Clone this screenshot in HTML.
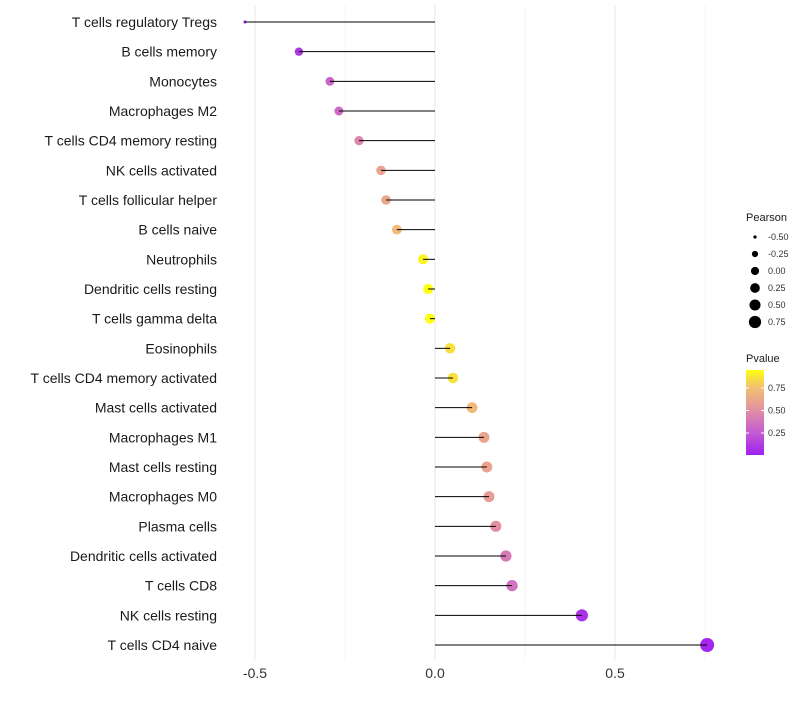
<!DOCTYPE html>
<html><head><meta charset="utf-8"><style>
body{margin:0;background:#fff;font-family:"Liberation Sans",sans-serif;}
</style></head><body>
<svg id="c" width="800" height="700" xmlns="http://www.w3.org/2000/svg">
<defs><linearGradient id="pg" x1="0" y1="1" x2="0" y2="0">
<stop offset="0" stop-color="#a020f0"/><stop offset="0.27" stop-color="#c45cd0"/><stop offset="0.55" stop-color="#e4959e"/><stop offset="0.8" stop-color="#f2c070"/><stop offset="1" stop-color="#ffff10"/></linearGradient></defs>
</svg>
<script>
const categories=["T cells regulatory  Tregs","B cells memory","Monocytes","Macrophages M2","T cells CD4 memory resting","NK cells activated","T cells follicular helper","B cells naive","Neutrophils","Dendritic cells resting","T cells gamma delta","Eosinophils","T cells CD4 memory activated","Mast cells activated","Macrophages M1","Mast cells resting","Macrophages M0","Plasma cells","Dendritic cells activated","T cells CD8","NK cells resting","T cells CD4 naive"];
const pearson=[-0.528,-0.378,-0.292,-0.267,-0.211,-0.15,-0.136,-0.106,-0.033,-0.019,-0.014,0.042,0.05,0.103,0.136,0.144,0.15,0.169,0.197,0.214,0.408,0.756];
const pvalue=[0.02,0.1,0.3,0.32,0.45,0.6,0.62,0.72,0.92,0.96,0.96,0.86,0.86,0.72,0.6,0.6,0.56,0.5,0.4,0.36,0.08,0.02];
const xTicks=[-0.5,0,0.5];
const sizeLegend=[-0.5,-0.25,0,0.25,0.5,0.75];
const pTicks=[0.25,0.5,0.75];
const svg=document.getElementById('c');const NS="http://www.w3.org/2000/svg";
const X=v=>435+v*360, Y=i=>22+i*(623/21);
const R=v=>Math.sqrt(Math.max(1.5,2+31*(v+0.53)));
const RP=v=>v<-0.38?1.5+2.7*Math.max(0,(v+0.53)/0.15):4.2+2.8*(v+0.38)/1.14;
const PY=p=>433-(p-0.25)*90;
function lerp(a,b,t){return a+(b-a)*t}
const stops=[[0,[160,32,240]],[0.27,[196,92,208]],[0.55,[228,149,158]],[0.8,[242,192,112]],[1,[255,255,16]]];
function col(p){let t=Math.min(1,Math.max(0,p/0.95));for(let k=1;k<stops.length;k++){if(t<=stops[k][0]){const a=stops[k-1],b=stops[k],u=(t-a[0])/(b[0]-a[0]);return `rgb(${a[1].map((c,j)=>Math.round(lerp(c,b[1][j],u))).join(',')})`}}return 'rgb(255,255,16)'}
function mk(t,a,p){const e=document.createElementNS(NS,t);for(const k in a)e.setAttribute(k,a[k]);(p||svg).appendChild(e);return e}
[-0.5,-0.25,0,0.25,0.5,0.75].forEach(v=>{const g=mk('line',{x1:X(v),x2:X(v),y1:5,y2:660,stroke:v*4%2==0?'#ebebeb':'#f4f4f4','stroke-width':v*4%2==0?1.2:0.8});

});
categories.forEach((c,i)=>{const t=mk('text',{x:217,y:Y(i)+5,'text-anchor':'end','font-size':14,fill:'#1a1a1a'});t.textContent=c;


const d=mk('circle',{cx:X(pearson[i]),cy:Y(i),r:RP(pearson[i]),fill:col(pvalue[i])});


const l=mk('line',{x1:X(0),x2:X(pearson[i]),y1:Y(i),y2:Y(i),stroke:'#000','stroke-width':1});

});
xTicks.forEach(v=>{const t=mk('text',{x:X(v),y:678,'text-anchor':'middle','font-size':14,fill:'#333'});t.textContent=v.toFixed(1);

});
let t=mk('text',{x:746,y:221,'font-size':11,fill:'#1a1a1a'});t.textContent='Pearson';


sizeLegend.forEach((v,i)=>{const y=237+i*17;const c=mk('circle',{cx:755,cy:y,r:R(v)*0.95,fill:'#000'});


const s=mk('text',{x:768,y:y+3,'font-size':9,fill:'#333'});s.textContent=v.toFixed(2);

});
t=mk('text',{x:746,y:362,'font-size':11,fill:'#1a1a1a'});t.textContent='Pvalue';


const bar=mk('rect',{x:746,y:370,width:18,height:85,fill:'url(#pg)'});


pTicks.forEach(p=>{mk('line',{x1:746,x2:749,y1:PY(p),y2:PY(p),stroke:'#fff'});mk('line',{x1:761,x2:764,y1:PY(p),y2:PY(p),stroke:'#fff'});
const s=mk('text',{x:768,y:PY(p)+3,'font-size':9,fill:'#333'});s.textContent=p.toFixed(2);

});
</script>
</body></html>
